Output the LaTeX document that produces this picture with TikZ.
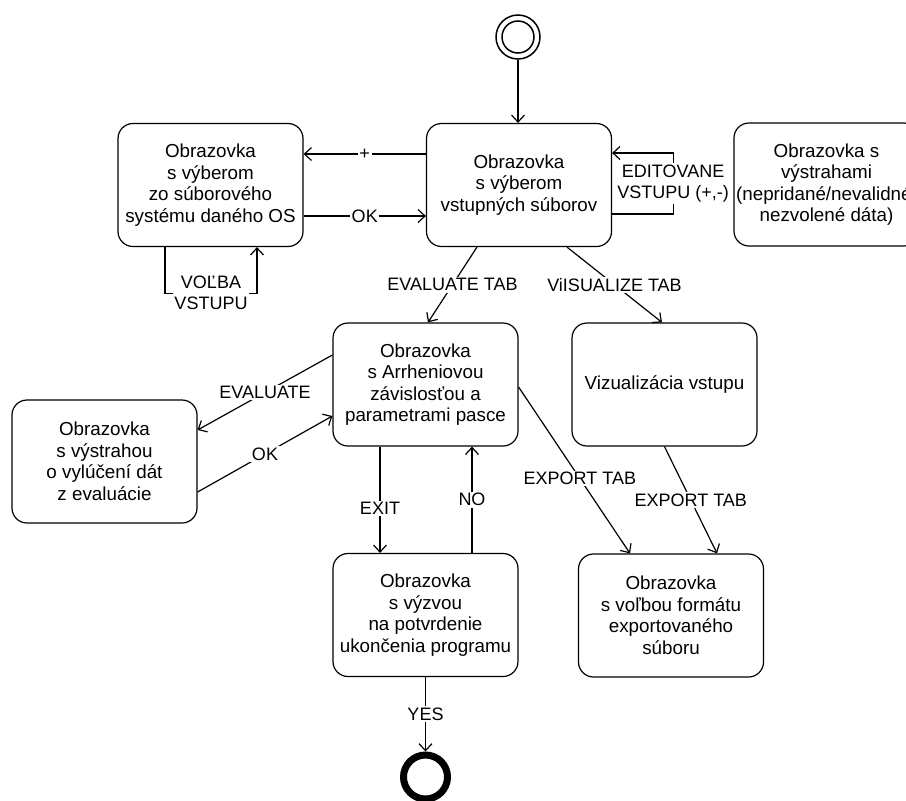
\documentclass[tikz,border=0pt]{standalone}
\usepackage{fontspec}
\setmainfont{Liberation Sans}
\usetikzlibrary{arrows.meta}

\begin{document}
\begin{tikzpicture}[x=1pt,y=-1pt,
  screen/.style={draw, line width=1.2pt, rounded corners=15pt,
    minimum width=185pt, minimum height=123pt, align=center,
    inner sep=0pt, font=\fontsize{18.8}{21.5}\selectfont},
  flow/.style={line width=1.2pt,
    -{Straight Barb[length=7pt,width=13pt,line width=1.2pt]}},
  tag/.style={fill=white, inner sep=1.5pt, align=center,
    font=\fontsize{18}{21}\selectfont},
]
\useasboundingbox (0,0) rectangle (906,801);
\clip (0,0) rectangle (906,801);

% initial and final states
\node[circle, draw, line width=1.5pt, minimum size=44pt, inner sep=0pt] (start) at (518,37) {};
\draw[line width=1.5pt] (start.center) circle (16pt);
\node[circle, draw, line width=7pt, minimum size=44pt, inner sep=0pt] (final) at (425.5,777) {};

% screens
\node[screen] (A) at (519,185) {Obrazovka\\s výberom\\vstupných súborov};
\node[screen] (B) at (210.5,185) {Obrazovka\\s výberom\\zo súborového\\systému daného OS};
\node[screen] (C) at (826.5,184.5) {Obrazovka s\\výstrahami\\(nepridané/nevalidné/\\nezvolené dáta)};
\node[screen] (D) at (425.5,384.5) {Obrazovka\\s Arrheniovou\\závislosťou a\\parametrami pasce};
\node[screen] (E) at (664.5,384.5) {Vizualizácia vstupu};
\node[screen] (F) at (104.5,461.5) {Obrazovka\\s výstrahou\\o vylúčení dát\\z evaluácie};
\node[screen] (G) at (425.5,615) {Obrazovka\\s výzvou\\na potvrdenie\\ukončenia programu};
\node[screen] (H) at (671,615.5) {Obrazovka\\s voľbou formátu\\exportovaného\\súboru};

% transitions
\draw[flow] (start.south) -- (start.south |- A.north);
\draw[flow] ([yshift=31pt]A.west) -- node[tag]{+} ([yshift=31pt]B.east);
\draw[flow] ([yshift=-31pt]B.east) -- node[tag]{OK} ([yshift=-31pt]A.west);
\draw[flow] ([xshift=-45.5pt]B.south) -- ++(0,46)
  -| node[tag,pos=0.25]{VOĽBA\\VSTUPU} ([xshift=46.5pt]B.south);
\draw[flow] ([yshift=-29pt]A.east) -- ++(61,0)
  |- node[tag,pos=0.25]{EDITOVANE\\VSTUPU (+,-)} ([yshift=32pt]A.east);
\draw[flow] ([xshift=-42pt]A.south) -- node[tag]{EVALUATE TAB} ([xshift=2.5pt]D.north);
\draw[flow] ([xshift=48pt]A.south) -- node[tag]{ViISUALIZE TAB} ([xshift=-2.5pt]E.north);
\draw[flow] ([yshift=29.5pt]D.west) -- node[tag]{EVALUATE} ([yshift=31.5pt]F.east);
\draw[flow] ([yshift=-30.5pt]F.east) -- node[tag]{OK} ([yshift=-31.5pt]D.west);
\draw[flow] ([xshift=-45.5pt]D.south) -- node[tag,pos=0.58]{EXIT} ([xshift=-45.5pt]G.north);
\draw[flow] ([xshift=46.5pt]G.north) -- node[tag]{NO} ([xshift=46.5pt]D.south);
\draw[flow] ([yshift=-2.5pt]D.east) -- node[tag,pos=0.55]{EXPORT TAB} ([xshift=-41pt]H.north);
\draw[flow] (E.south) -- node[tag]{EXPORT TAB} ([xshift=46pt]H.north);
\draw[flow] (G.south) -- node[tag]{YES} (final.north);
\end{tikzpicture}
\end{document}
